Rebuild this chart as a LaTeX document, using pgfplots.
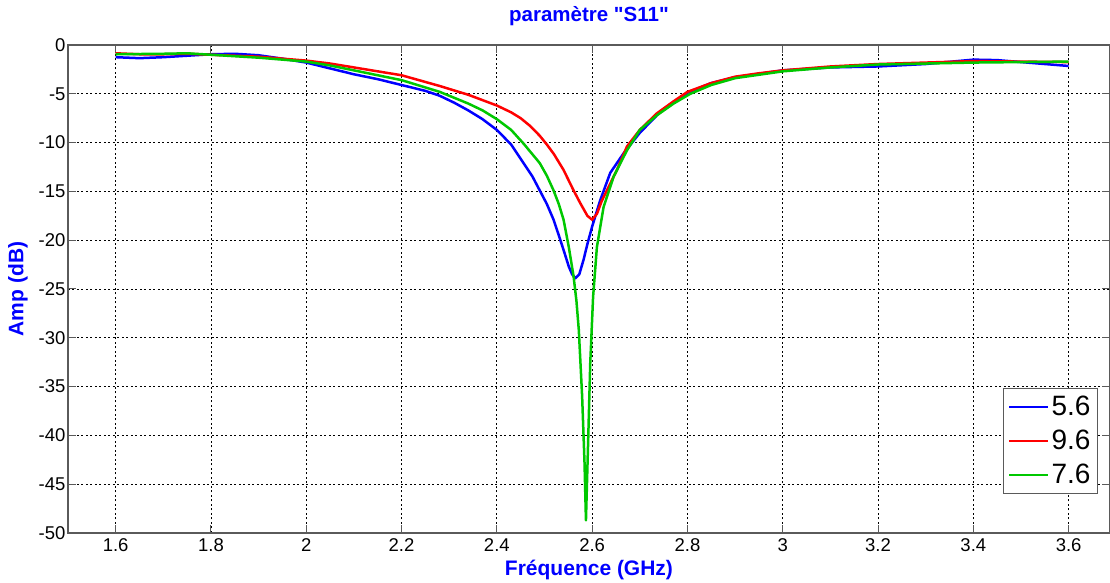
\documentclass[border=0pt]{standalone}
\usepackage{fontspec}
\setmainfont{Liberation Sans}[Ligatures=TeXOff]
\usepackage{pgfplots}
\pgfplotsset{compat=1.18}
\definecolor{mgreen}{RGB}{0,200,0}
\definecolor{axgray}{RGB}{90,90,90}
\begin{document}
\begin{tikzpicture}
\begin{axis}[
  name=ax,
  scale only axis,
  width=1042pt, height=488pt,
  xmin=1.5, xmax=3.6868, ymin=-50, ymax=0,
  xtick={1.6,1.8,2,2.2,2.4,2.6,2.8,3,3.2,3.4,3.6},
  xticklabels={1.6,1.8,2,2.2,2.4,2.6,2.8,3,3.2,3.4,3.6},
  ytick={-50,-45,-40,-35,-30,-25,-20,-15,-10,-5,0},
  yticklabels={-50,-45,-40,-35,-30,-25,-20,-15,-10,-5,0},
  /pgf/number format/assume math mode=true,
  tick align=inside,
  major tick length=8pt,
  tick style={axgray, line width=1pt},
  axis line style={axgray, line width=1.3pt},
  grid=major,
  major grid style={black, line width=0.8pt, dash pattern=on 2pt off 2.5pt},
  ticklabel style={font=\fontsize{18.5}{22}\selectfont, text=black},
  xticklabel style={yshift=-2pt},
  yticklabel style={xshift=1pt},
  title={paramètre "S11"},
  title style={font=\fontsize{20.5}{24}\selectfont\bfseries, text=blue, at={(axis description cs:0.5,1)}, anchor=base, yshift=17pt},
  xlabel={Fréquence (GHz)},
  xlabel style={font=\fontsize{21}{24}\selectfont\bfseries, text=blue, at={(axis description cs:0.5,0)}, anchor=base, yshift=-43pt},
  ylabel={Amp (dB)},
  ylabel style={font=\fontsize{21}{24}\selectfont\bfseries, text=blue, at={(axis description cs:-0.048,0.5)}, anchor=center},
  legend style={at={(axis description cs:0.9885,0.08)}, anchor=south east, draw=axgray, line width=1pt, fill=white,
    font=\fontsize{28}{32}\selectfont, row sep=9pt, inner xsep=5pt, inner ysep=6pt},
  legend cell align=left,
  legend image code/.code={\draw[#1, line width=2.5pt] (0pt,0pt) -- (39pt,0pt);},
  every axis plot/.append style={line width=2.5pt, line join=round},
]
\addplot[blue] coordinates {
(1.60,-1.25) (1.65,-1.35) (1.70,-1.25) (1.75,-1.1) (1.80,-0.95) (1.85,-0.9) (1.90,-1.05)
(1.95,-1.4) (2.00,-1.8) (2.05,-2.4) (2.10,-3.0) (2.15,-3.5) (2.20,-4.1) (2.25,-4.7) (2.28,-5.2) (2.31,-5.9) (2.34,-6.7) (2.37,-7.6) (2.40,-8.7) (2.43,-10.2) (2.456,-12.1)
(2.475,-13.5) (2.49,-14.9) (2.505,-16.3) (2.519,-17.9) (2.53,-19.5) (2.54,-21.0) (2.551,-22.7) (2.558,-23.5) (2.565,-23.9) (2.573,-23.5)
(2.582,-22.0) (2.59,-20.4) (2.60,-18.6) (2.617,-15.9) (2.638,-13.1) (2.666,-11.1) (2.70,-9.0)
(2.74,-7.0) (2.77,-5.9) (2.80,-4.9) (2.85,-3.9) (2.90,-3.3) (3.00,-2.6) (3.10,-2.3) (3.20,-2.2)
(3.30,-1.95) (3.40,-1.5) (3.45,-1.55) (3.50,-1.75) (3.60,-2.15)
};
\addlegendentry{5.6}
\addplot[red] coordinates {
(1.60,-0.85) (1.65,-0.95) (1.70,-0.95) (1.75,-0.9) (1.80,-1.0) (1.90,-1.2) (2.00,-1.6)
(2.05,-1.9) (2.10,-2.3) (2.15,-2.7) (2.20,-3.1) (2.28,-4.2) (2.34,-5.1) (2.40,-6.2) (2.43,-6.9) (2.45,-7.5) (2.47,-8.3) (2.49,-9.3)
(2.505,-10.2) (2.52,-11.2) (2.54,-12.8) (2.56,-14.8) (2.575,-16.2) (2.59,-17.5) (2.60,-17.9)
(2.61,-17.3) (2.62,-16.0) (2.631,-14.9) (2.652,-12.8) (2.673,-10.4) (2.70,-8.7)
(2.736,-7.0) (2.77,-5.8) (2.80,-4.8) (2.85,-3.9) (2.90,-3.25) (2.95,-2.9) (3.00,-2.6)
(3.10,-2.2) (3.20,-1.95) (3.30,-1.8) (3.40,-1.65) (3.50,-1.7) (3.60,-1.75)
};
\addlegendentry{9.6}
\addplot[mgreen] coordinates {
(1.60,-0.95) (1.70,-0.9) (1.75,-0.85) (1.80,-1.0) (1.90,-1.3) (2.00,-1.7) (2.05,-2.1) (2.10,-2.6)
(2.15,-3.1) (2.20,-3.6) (2.28,-4.8) (2.34,-6.0) (2.37,-6.7) (2.40,-7.6) (2.43,-8.7) (2.456,-10.1) (2.49,-12.1) (2.505,-13.4) (2.519,-14.9)
(2.53,-16.3) (2.54,-17.9) (2.551,-20.7) (2.561,-23.7) (2.567,-26.2) (2.572,-29.2) (2.579,-36.0) (2.584,-42.8)
(2.587,-48.7) (2.5915,-40.8) (2.596,-32.6) (2.602,-25.8) (2.610,-20.7) (2.624,-16.6)
(2.645,-13.5) (2.673,-10.8) (2.70,-8.7) (2.736,-7.2) (2.771,-6.0) (2.806,-5.0)
(2.85,-4.1) (2.90,-3.4) (3.00,-2.7) (3.10,-2.3) (3.20,-2.0) (3.30,-1.9) (3.40,-1.8)
(3.50,-1.75) (3.60,-1.7)
};
\addlegendentry{7.6}
\end{axis}
\pgfresetboundingbox
\useasboundingbox ([xshift=-68pt,yshift=-50pt]ax.south west) rectangle ([yshift=45pt]ax.north east);
\end{tikzpicture}
\end{document}
